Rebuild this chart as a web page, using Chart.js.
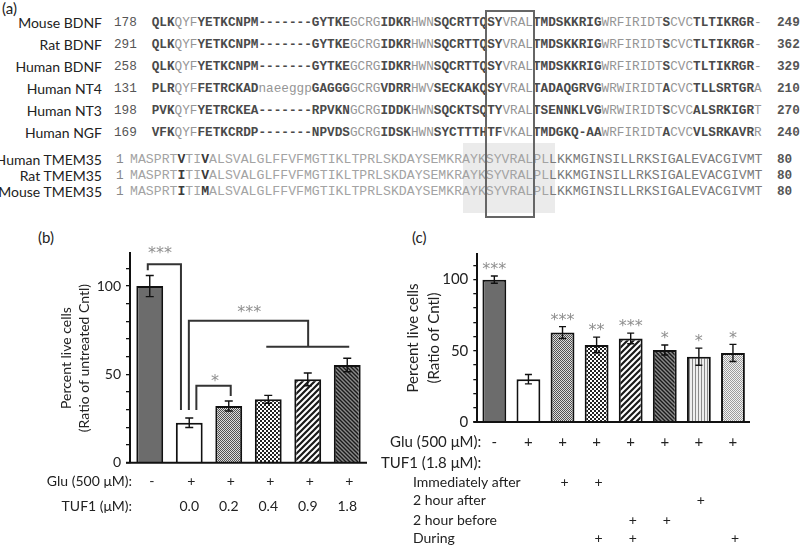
<!DOCTYPE html>
<html>
<head>
<meta charset="utf-8">
<script src="https://cdn.jsdelivr.net/npm/chart.js@4.4.0/dist/chart.umd.min.js"></script>
<style>
  body { margin: 0; width: 800px; height: 547px; background: #fff; position: relative; overflow: hidden; font-family: Lato, sans-serif; }
  .name { position: absolute; width: 110px; text-align: right; font-size: 14px; color: #222; line-height: 18px; white-space: nowrap; }
  .mono { position: absolute; font-family: "Liberation Mono", monospace; white-space: pre; line-height: 16px; }
  .panel { position: absolute; font-size: 15px; color: #222; }
  canvas { position: absolute; }
</style>
</head>
<body>
<div id="seqArea"></div>
<canvas id="chartB" width="380" height="307" style="left:0;top:240px"></canvas>
<canvas id="chartC" width="420" height="307" style="left:380px;top:240px"></canvas>
<script>
// ---- panel (a) sequences ----
const ntNames = ['Mouse BDNF', 'Rat BDNF', 'Human BDNF', 'Human NT4', 'Human NT3', 'Human NGF'];
const ntStart = [178, 291, 258, 131, 198, 169];
const ntEnd = [249, 362, 329, 210, 270, 240];
const ntSeqs = [
    'QLKQYFYETKCNPM-------GYTKEGCRGIDKRHWNSQCRTTQSYVRALTMDSKKRIGWRFIRIDTSCVCTLTIKRGR-',
    'QLKQYFYETKCNPM-------GYTKEGCRGIDKRHWNSQCRTTQSYVRALTMDSKKRIGWRFIRIDTSCVCTLTIKRGR-',
    'QLKQYFYETKCNPM-------GYTKEGCRGIDKRHWNSQCRTTQSYVRALTMDSKKRIGWRFIRIDTSCVCTLTIKRGR-',
    'PLRQYFFETRCKADnaeeggpGAGGGGCRGVDRRHWVSECKAKQSYVRALTADAQGRVGWRWIRIDTACVCTLLSRTGRA',
    'PVKQYFYETRCKEA-------RPVKNGCRGIDDKHWNSQCKTSQTYVRALTSENNKLVGWRWIRIDTSCVCALSRKIGRT',
    'VFKQYFFETKCRDP-------NPVDSGCRGIDSKHWNSYCTTTHTFVKALTMDGKQ-AAWRFIRIDTACVCVLSRKAVRR'
];
const tmNames = ['Human TMEM35', 'Rat TMEM35', 'Mouse TMEM35'];
const tmSeqs = [
    'MASPRTVTIVALSVALGLFFVFMGTIKLTPRLSKDAYSEMKRAYKSYVRALPLLKKMGINSILLRKSIGALEVACGIVMT',
    'MASPRTITIVALSVALGLFFVFMGTIKLTPRLSKDAYSEMKRAYKSYVRALPLLKKMGINSILLRKSIGALEVACGIVMT',
    'MASPRTITIMALSVALGLFFVFMGTIKLTPRLSKDAYSEMKRAYKSYVRALPLLKKMGINSILLRKSIGALEVACGIVMT'
];
const ntGrayCols = [3, 4, 5, 26, 27, 28, 29, 34, 35, 36, 46, 47, 48, 49, 59, 60, 61, 62, 63, 64, 65, 66, 68, 69, 70, 79];

// ---- panel (b) ----
const labelsB = ['Cntl', '0.0', '0.2', '0.4', '0.9', '1.8'];
const gluB = ['-', '+', '+', '+', '+', '+'];
const tufB = ['', '0.0', '0.2', '0.4', '0.9', '1.8'];
const liveB = [100, 22.6, 32.1, 35.9, 47.2, 55.3];
const errB = [6, 2.7, 2.8, 2.2, 3.6, 3.8];

// ---- panel (c) ----
const labelsC = ['Cntl', 'Glu', 'IA', 'IA+D', 'B+D', 'B', 'A', 'D'];
const gluC = ['-', '+', '+', '+', '+', '+', '+', '+'];
const immAfter = ['', '', '+', '+', '', '', '', ''];
const twoAfter = ['', '', '', '', '', '', '+', ''];
const twoBefore = ['', '', '', '', '+', '+', '', ''];
const during = ['', '', '', '+', '+', '', '', '+'];
const liveC = [100, 30.1, 62.8, 54.1, 58.7, 50.6, 45.9, 48.5];
const errC = [2.5, 3.3, 4.2, 5.5, 3.7, 3.5, 6, 6];
const sigC = ['***', '', '***', '**', '***', '*', '*', '*'];

/* build the alignment text */
const area = document.getElementById('seqArea');
function addDiv(cls, html, style) {
    const d = document.createElement('div');
    d.className = cls;
    d.innerHTML = html;
    d.setAttribute('style', style);
    area.appendChild(d);
}
addDiv('panel', '(a)', 'left:2px;top:-1px');
addDiv('panel', '(b)', 'left:38px;top:228px');
addDiv('panel', '(c)', 'left:412px;top:228px');

const ntRowY = [23, 45, 67, 89, 111, 133];
ntNames.forEach(function (name, i) {
    const y = ntRowY[i];
    addDiv('name', name, `left:-8px;top:${y - 9}px`);
    addDiv('mono', String(ntStart[i]), `left:114px;top:${y - 8}px;font-size:12.7px;color:#555`);
    let html = '';
    for (let k = 0; k < ntSeqs[i].length; k++) {
        const ch = ntSeqs[i][k];
        const gray = ntGrayCols.includes(k) || (ch >= 'a' && ch <= 'z');
        html += gray ? `<span style="color:#959595">${ch}</span>` : `<span style="color:#4a4a4a;font-weight:bold">${ch}</span>`;
    }
    addDiv('mono', html, `left:151.7px;top:${y - 8}px;font-size:12.7px`);
    addDiv('mono', String(ntEnd[i]), `left:777px;top:${y - 8}px;font-size:12.7px;color:#555;font-weight:bold`);
});

const tmRowY = [160, 176, 192];
addDiv('', '', 'position:absolute;left:463px;top:143px;width:92px;height:70px;background:#ebebeb');
tmNames.forEach(function (name, i) {
    const y = tmRowY[i];
    addDiv('name', name, `left:-8px;top:${y - 9}px`);
    addDiv('mono', '1', `left:116px;top:${y - 8}px;font-size:12.7px;color:#888`);
    let html = '';
    for (let k = 0; k < tmSeqs[i].length; k++) {
        const ch = tmSeqs[i][k];
        let style = k >= 53 ? 'color:#7a7a7a' : 'color:#a3a3a3';
        if (k === 6 || k === 9) style = 'color:#3a3a3a;font-weight:bold';
        html += `<span style="${style}">${ch}</span>`;
    }
    addDiv('mono', html, `left:130px;top:${y - 8}px;font-size:13.17px`);
    addDiv('mono', '80', `left:777px;top:${y - 8}px;font-size:12.7px;color:#555;font-weight:bold`);
});
addDiv('', '', 'position:absolute;left:485px;top:10px;width:46px;height:204px;border:2px solid #666');

/* bar fill patterns */
function makePattern(kind) {
    const c = document.createElement('canvas');
    const g = c.getContext('2d');
    if (kind === 'fine') {
        c.width = c.height = 2;
        g.fillStyle = '#dcdcdc'; g.fillRect(0, 0, 2, 2);
        g.fillStyle = '#505050'; g.fillRect(0, 0, 1, 1); g.fillRect(1, 1, 1, 1);
    } else if (kind === 'check') {
        c.width = c.height = 4;
        g.fillStyle = '#fff'; g.fillRect(0, 0, 4, 4);
        g.fillStyle = '#222'; g.fillRect(0, 0, 2, 2); g.fillRect(2, 2, 2, 2);
    } else if (kind === 'up' || kind === 'down') {
        const s = kind === 'up' ? 6 : 4;
        c.width = c.height = s;
        g.fillStyle = kind === 'down' ? '#8a8a8a' : '#fff';
        g.fillRect(0, 0, s, s);
        g.strokeStyle = '#1a1a1a';
        g.lineWidth = kind === 'up' ? 2.2 : 1.4;
        g.beginPath();
        if (kind === 'up') {
            g.moveTo(-1, 1); g.lineTo(1, -1);
            g.moveTo(0, s); g.lineTo(s, 0);
            g.moveTo(s - 1, s + 1); g.lineTo(s + 1, s - 1);
        } else {
            g.moveTo(-1, s - 1); g.lineTo(1, s + 1);
            g.moveTo(0, 0); g.lineTo(s, s);
            g.moveTo(s - 1, -1); g.lineTo(s + 1, 1);
        }
        g.stroke();
    } else if (kind === 'vert') {
        c.width = 3; c.height = 1;
        g.fillStyle = '#eee'; g.fillRect(0, 0, 3, 1);
        g.fillStyle = '#8a8a8a'; g.fillRect(0, 0, 1, 1);
    } else if (kind === 'zig') {
        c.width = c.height = 4;
        g.fillStyle = '#f2f2f2'; g.fillRect(0, 0, 4, 4);
        g.fillStyle = '#9c9c9c';
        g.fillRect(0, 0, 1, 1); g.fillRect(1, 1, 1, 1); g.fillRect(2, 0, 1, 1); g.fillRect(3, 1, 1, 1);
        g.fillRect(0, 2, 1, 1); g.fillRect(2, 2, 1, 1); g.fillRect(1, 3, 1, 1); g.fillRect(3, 3, 1, 1);
    }
    return g.createPattern(c, 'repeat');
}
const solid = '#6c6c6c';
const fillsB = [solid, '#fff', makePattern('fine'), makePattern('check'), makePattern('up'), makePattern('down')];
const fillsC = [solid, '#fff', makePattern('fine'), makePattern('check'), makePattern('up'), makePattern('down'), makePattern('vert'), makePattern('zig')];

/* error bars drawn through the scales */
function errorBars(errs, cap) {
    return {
        id: 'errorBars',
        afterDatasetsDraw(chart) {
            const ctx = chart.ctx;
            const y = chart.scales.y;
            const ds = chart.data.datasets[0].data;
            ctx.save();
            ctx.strokeStyle = '#111';
            ctx.lineWidth = 1.4;
            chart.getDatasetMeta(0).data.forEach(function (bar, i) {
                const top = y.getPixelForValue(ds[i] + errs[i]);
                const bot = y.getPixelForValue(ds[i] - errs[i]);
                ctx.beginPath();
                ctx.moveTo(bar.x, top); ctx.lineTo(bar.x, bot);
                ctx.moveTo(bar.x - cap, top); ctx.lineTo(bar.x + cap, top);
                ctx.moveTo(bar.x - cap, bot); ctx.lineTo(bar.x + cap, bot);
                ctx.stroke();
            });
            ctx.restore();
        }
    };
}

/* x baseline */
const baseline = {
    id: 'baseline',
    afterDraw(chart) {
        const {ctx, chartArea, scales: {y}} = chart;
        ctx.save();
        ctx.strokeStyle = '#111';
        ctx.lineWidth = 2;
        ctx.beginPath();
        ctx.moveTo(chartArea.left - 4, y.getPixelForValue(0));
        ctx.lineTo(chartArea.right, y.getPixelForValue(0));
        ctx.stroke();
        ctx.restore();
    }
};

function yAxis(width, fontSize, title, lineHeight, titlePad) {
    return {
        min: 0,
        max: 118.5,
        afterFit: function (s) { s.width = width; },
        border: { display: true, color: '#111', width: 2 },
        grid: { display: true, drawOnChartArea: false, drawTicks: true, tickLength: 4, color: '#111', lineWidth: 1.3 },
        ticks: {
            stepSize: 10,
            includeBounds: false,
            autoSkip: false,
            padding: 5,
            color: '#222',
            font: { family: 'Lato', size: fontSize },
            callback: v => (v % 50 === 0 ? v : '')
        },
        title: {
            display: true,
            text: title,
            color: '#222',
            font: { family: 'Lato', size: fontSize, lineHeight: lineHeight },
            padding: { top: titlePad, bottom: 0 }
        }
    };
}

const starFont = '16px "DejaVu Sans"';
const starColor = '#8e8e8e';

/* brackets and table for (b) */
const annotB = {
    id: 'annotB',
    afterDraw(chart) {
        const {ctx, chartArea, scales: {x, y}} = chart;
        const px = i => x.getPixelForValue(i);
        const py = v => y.getPixelForValue(v);
        ctx.save();
        ctx.strokeStyle = '#333';
        ctx.lineWidth = 2;
        ctx.beginPath();
        // control vs glutamate
        ctx.moveTo(px(-0.05), py(109)); ctx.lineTo(px(-0.05), py(112.3)); ctx.lineTo(px(0.79), py(112.3)); ctx.lineTo(px(0.79), py(29.8));
        // glutamate vs TUF1 0.4-1.8
        ctx.moveTo(px(0.99), py(29.8)); ctx.lineTo(px(0.99), py(80.4)); ctx.lineTo(px(4.01), py(80.4)); ctx.lineTo(px(4.01), py(65.6));
        ctx.moveTo(px(2.95), py(65.6)); ctx.lineTo(px(5.05), py(65.6));
        // glutamate vs TUF1 0.2
        ctx.moveTo(px(1.18), py(29.8)); ctx.lineTo(px(1.18), py(43.6)); ctx.lineTo(px(2.05), py(43.6)); ctx.lineTo(px(2.05), py(37.7));
        ctx.stroke();

        ctx.fillStyle = starColor;
        ctx.font = starFont;
        ctx.textAlign = 'center';
        ctx.textBaseline = 'middle';
        ctx.fillText('***', px(0.26), py(118.5));
        ctx.fillText('***', px(2.52), py(85));
        ctx.fillText('*', px(1.65), py(46));

        ctx.fillStyle = '#222';
        ctx.font = '14px Lato';
        const r1 = chartArea.bottom + 19, r2 = chartArea.bottom + 43.5;
        ctx.textAlign = 'right';
        ctx.fillText('Glu (500 μM):', chartArea.left + 2, r1);
        ctx.fillText('TUF1 (μM):', chartArea.left + 2, r2);
        ctx.textAlign = 'center';
        gluB.forEach((s, i) => ctx.fillText(s, px(i) + 2, r1));
        tufB.forEach((s, i) => ctx.fillText(s, px(i), r2));
        ctx.restore();
    }
};

/* significance marks and table for (c) */
const annotC = {
    id: 'annotC',
    afterDraw(chart) {
        const {ctx, chartArea, scales: {x, y}} = chart;
        const px = i => x.getPixelForValue(i);
        ctx.save();
        ctx.fillStyle = starColor;
        ctx.font = starFont;
        ctx.textAlign = 'center';
        ctx.textBaseline = 'middle';
        sigC.forEach((s, i) => ctx.fillText(s, px(i), y.getPixelForValue(liveC[i] + errC[i]) - 6));

        ctx.fillStyle = '#222';
        ctx.font = '15px Lato';
        const b = chartArea.bottom;
        ctx.textAlign = 'right';
        ctx.fillText('Glu (500 μM):', chartArea.left + 4, b + 20);
        ctx.fillText('TUF1 (1.8 μM):', chartArea.left + 4, b + 41);
        ctx.textAlign = 'left';
        ctx.font = '14px Lato';
        const subRows = [['Immediately after', immAfter, 60], ['2 hour after', twoAfter, 78], ['2 hour before', twoBefore, 98], ['During', during, 116.5]];
        subRows.forEach(r => ctx.fillText(r[0], 33, b + r[2]));
        ctx.textAlign = 'center';
        ctx.font = '15px Lato';
        gluC.forEach((s, i) => ctx.fillText(s, px(i), b + 20));
        ctx.font = '14px Lato';
        subRows.forEach(r => r[1].forEach((s, i) => ctx.fillText(s, px(i) + 2, b + r[2])));
        ctx.restore();
    }
};

new Chart(document.getElementById('chartB'), {
    type: 'bar',
    data: {
        labels: labelsB,
        datasets: [{
            data: liveB,
            backgroundColor: fillsB,
            borderColor: '#111',
            borderWidth: 2,
            categoryPercentage: 1,
            barPercentage: 0.68
        }]
    },
    options: {
        responsive: false,
        animation: false,
        layout: { padding: { left: 0, top: 13.3, right: 13, bottom: 84.3 } },
        plugins: { legend: { display: false }, tooltip: { enabled: false } },
        scales: {
            x: { display: false },
            y: yAxis(130, 14, ['Percent live cells', '(Ratio of untreated Cntl)'], 1.3, 57.6)
        }
    },
    plugins: [errorBars(errB, 4), baseline, annotB]
});

new Chart(document.getElementById('chartC'), {
    type: 'bar',
    data: {
        labels: labelsC,
        datasets: [{
            data: liveC,
            backgroundColor: fillsC,
            borderColor: '#111',
            borderWidth: 2,
            categoryPercentage: 1,
            barPercentage: 0.7
        }]
    },
    options: {
        responsive: false,
        animation: false,
        layout: { padding: { left: 0, top: 12.4, right: 50, bottom: 125 } },
        plugins: { legend: { display: false }, tooltip: { enabled: false } },
        scales: {
            x: { display: false },
            y: Object.assign(yAxis(97.3, 15, ['Percent live cells', '(Ratio of Cntl)'], 1.35, 23.3), { max: 118 })
        }
    },
    plugins: [errorBars(errC, 3.5), baseline, annotC]
});
</script>
</body>
</html>
